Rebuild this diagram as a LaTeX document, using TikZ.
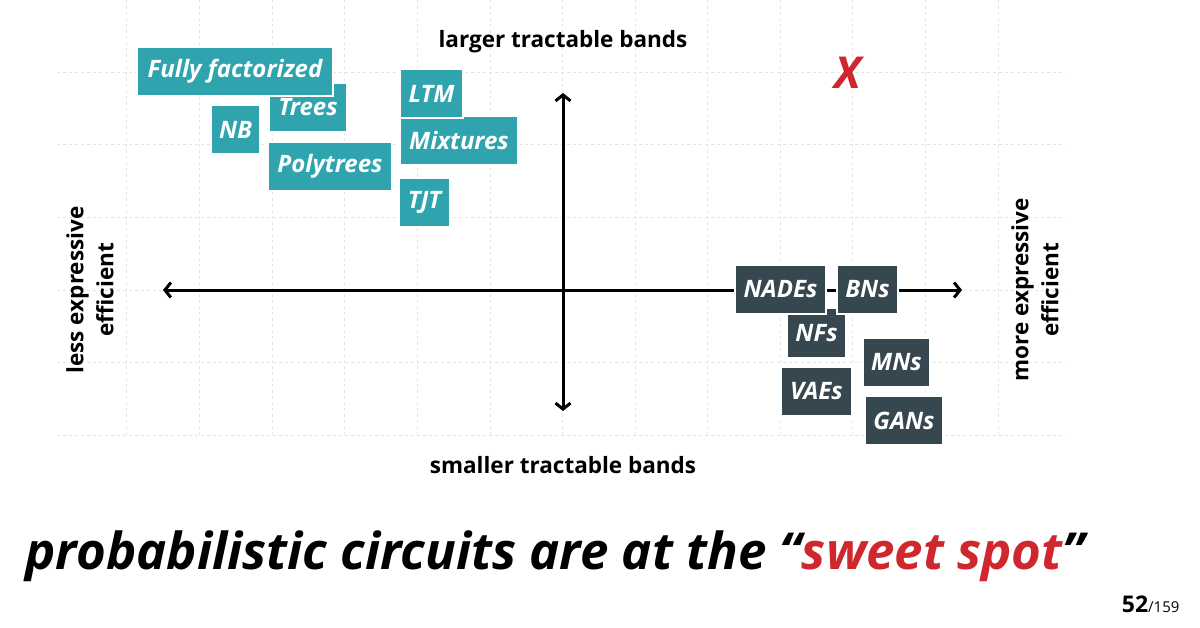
\documentclass[tikz,border=0pt]{standalone}
\usepackage{fontspec}
\setmainfont{Open Sans}
\usetikzlibrary{arrows.meta}
\definecolor{teal1}{HTML}{2FA3AE}
\definecolor{dark1}{HTML}{37474F}
\definecolor{red1}{HTML}{D0272E}
\begin{document}
\begin{tikzpicture}[x=1pt,y=-1pt,
  tbox/.style={fill=teal1,draw=white,line width=1.2pt,inner sep=0pt,text=white,font=\bfseries\itshape\fontsize{24}{24}\selectfont},
  dbox/.style={fill=dark1,draw=white,line width=1.2pt,inner sep=0pt,text=white,font=\bfseries\itshape\fontsize{24}{24}\selectfont},
  lab/.style={font=\bfseries\fontsize{22.5}{30}\selectfont,align=center},
  axis/.style={line width=3pt,{Straight Barb[length=6pt,width=15pt]}-{Straight Barb[length=6pt,width=15pt]}}]
\useasboundingbox (0,0) rectangle (1200,627);
\fill[white] (0,0) rectangle (1200,627);
% grid
\foreach \x in {126,199,272,344,417,490,562,635,707,780,852,925,998}
  \draw[gray!20,dashed,line width=0.6pt] (\x,0) -- (\x,435);
\foreach \y in {72,144,217,290,362,435}
  \draw[gray!20,dashed,line width=0.6pt] (57,\y) -- (1065,\y);
% axes
\coordinate (L) at (163,290); \coordinate (R) at (962,290);
\coordinate (T) at (563,93); \coordinate (B) at (563,411);
\draw[axis] (L) -- (R);
\draw[axis] (T) -- (B);
% labels
\node[lab] (top) at (563,42) {larger tractable bands};
\node[lab] (bot) at (563,465) {smaller tractable bands};
\node[lab,rotate=90] (left) at (90,290) {less expressive\\efficient};
\node[lab,rotate=90] (right) at (1035,290) {more expressive\\efficient};
\node[text=red1,font=\bfseries\itshape\fontsize{44}{44}\selectfont] (X) at (848,73) {X};
% teal boxes
\node[tbox,minimum width=78,minimum height=49] (trees) at (308,107.5) {Trees};
\node[tbox,minimum width=196,minimum height=49] (ff) at (235,71.5) {Fully factorized};
\node[tbox,minimum width=49,minimum height=49] (nb) at (235.5,129.5) {NB};
\node[tbox,minimum width=124,minimum height=49] (poly) at (330,166.5) {Polytrees};
\node[tbox,minimum width=118,minimum height=49] (mix) at (459,140.5) {Mixtures};
\node[tbox,minimum width=63,minimum height=49] (ltm) at (431.5,93.5) {LTM};
\node[tbox,minimum width=51,minimum height=49] (tjt) at (424.5,202.5) {TJT};
% dark boxes
\node[dbox,minimum width=59,minimum height=50] (nfs) at (816.5,333) {NFs};
\node[dbox,minimum width=91,minimum height=49] (nades) at (780.5,289.5) {NADEs};
\node[dbox,minimum width=61,minimum height=49] (bns) at (867.5,289.5) {BNs};
\node[dbox,minimum width=67,minimum height=49] (mns) at (896.5,362.5) {MNs};
\node[dbox,minimum width=71,minimum height=49] (vaes) at (816.5,391.5) {VAEs};
\node[dbox,minimum width=78,minimum height=49] (gans) at (904,420.5) {GANs};
% title
\node[font=\bfseries\itshape\fontsize{51}{51}\selectfont] (title) at (555,556) {probabilistic circuits are at the “\textcolor{red1}{sweet spot}”};
\node[anchor=base east,font=\fontsize{15}{15}\selectfont] (pg) at (1183,612) {{\bfseries\fontsize{23}{23}\selectfont 52}/159};
\end{tikzpicture}
\end{document}
